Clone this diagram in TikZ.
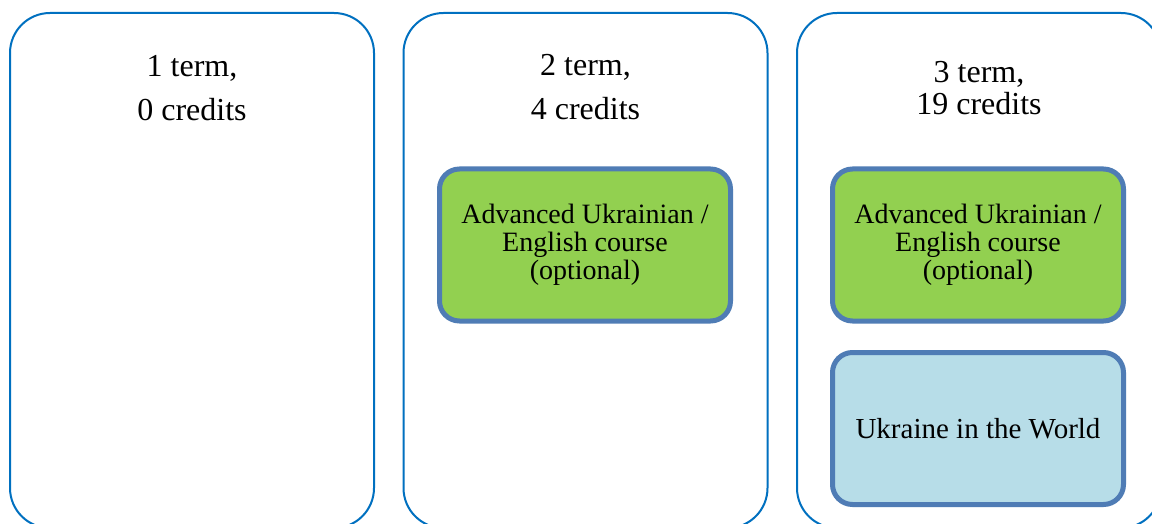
\documentclass[tikz,border=0pt]{standalone}
\usepackage{fontspec}
\setmainfont{Liberation Serif}
\definecolor{termblue}{HTML}{0070C0}
\definecolor{boxedge}{HTML}{4F7CB5}
\definecolor{optgreen}{HTML}{92D050}
\definecolor{worldblue}{HTML}{B7DDE8}

\begin{document}
\begin{tikzpicture}[x=0.5pt,y=-0.5pt,
                term/.style={rectangle,rounded corners=20pt,draw=termblue,line width=1pt,
                             minimum width=182pt,minimum height=257.5pt},
                head/.style={align=center,anchor=base,font=\fontsize{16}{22}\selectfont},
                course/.style={rectangle,rounded corners=10pt,draw=boxedge,line width=2.5pt,
                               minimum width=145.5pt,minimum height=76pt,align=center,
                               font=\fontsize{14}{14}\selectfont}]

            \clip (0,0) rectangle (1152,524);
            \fill[white] (0,0) rectangle (1152,524);

            \node[term] (t1) at (192,270.5) {};
            \node[term] (t2) at (585.5,270.5) {};
            \node[term] (t3) at (979,270.5) {};

            \node[head] (h1) at (192,121) {1 term,\\0 credits};
            \node[head] (h2) at (585.5,120) {2 term,\\4 credits};
            \node[head, font=\fontsize{16}{16.5}\selectfont] (h3) at (979,115) {3 term,\\19 credits};

            \node[course, fill=optgreen] (c2) at (585,245) {Advanced Ukrainian /\\English course\\(optional)};
            \node[course, fill=optgreen] (c3) at (978,245) {Advanced Ukrainian /\\English course\\(optional)};
            \node[course, fill=worldblue, font=\fontsize{14.5}{14}\selectfont] (w3) at (978,428.5) {Ukraine in the World};

        \end{tikzpicture}
\end{document}
